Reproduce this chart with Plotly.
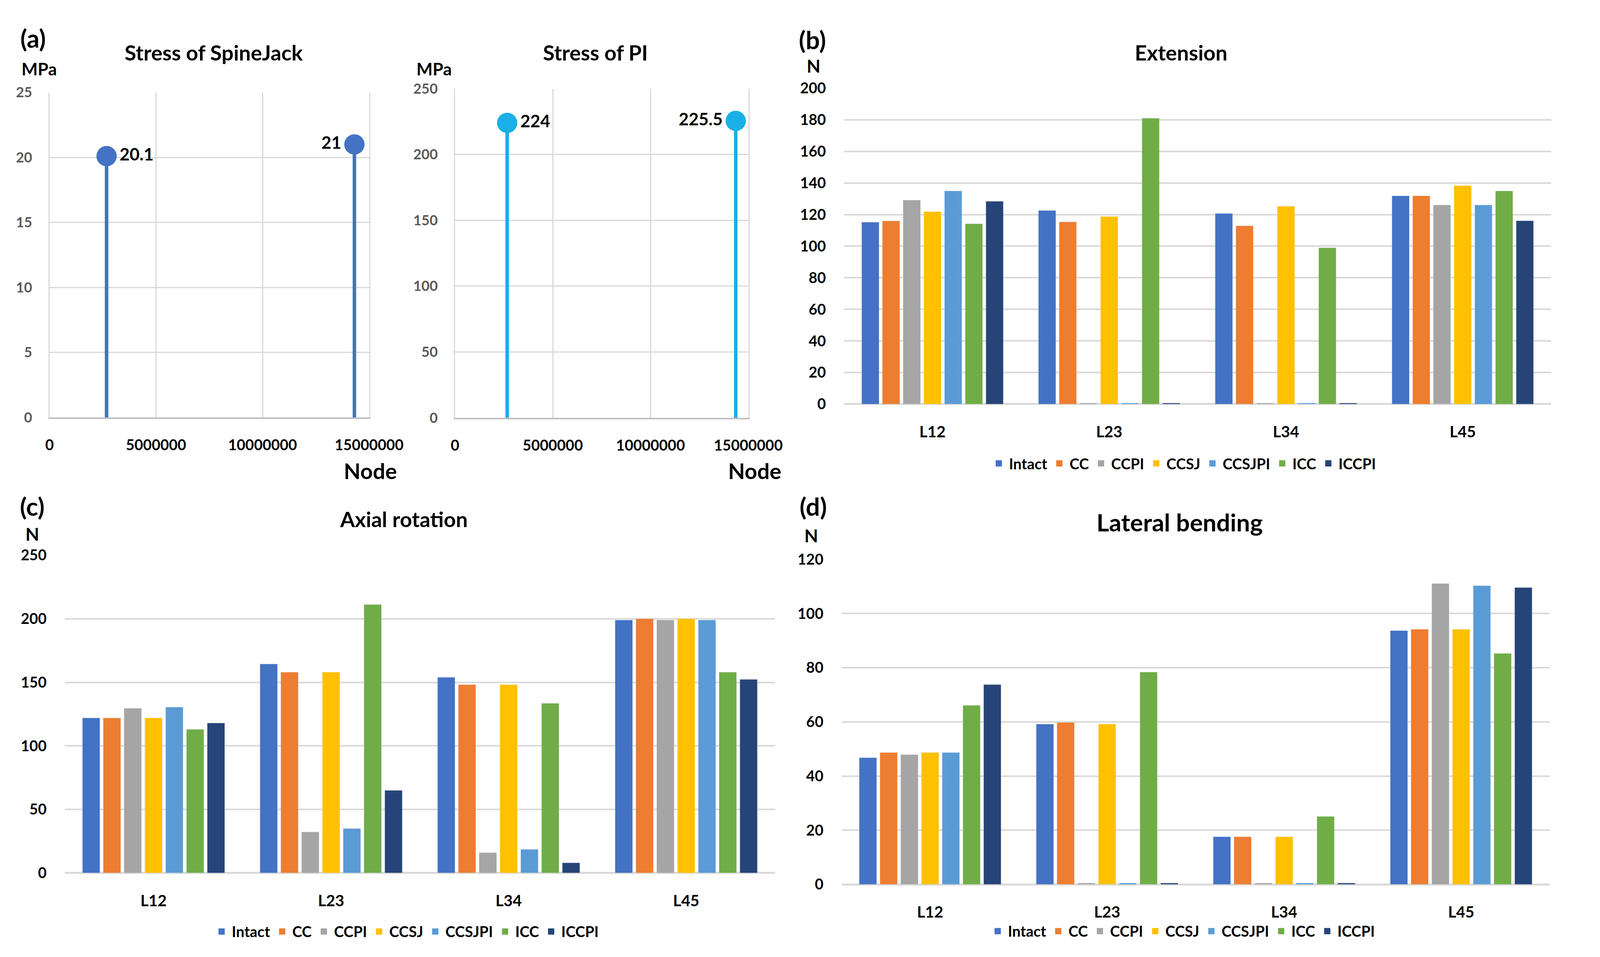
import plotly.graph_objects as go

W, H = 4364, 2451  # reference canvas, used to place layout items as fractions

# ---------------- data ----------------
nodes_sj = [2680000, 14310000]
stress_sj = [20.1, 21]
nodes_pi = [2670000, 14360000]
stress_pi = [224, 225.5]

levels = ["L12", "L23", "L34", "L45"]
groups = ["Intact", "CC", "CCPI", "CCSJ", "CCSJPI", "ICC", "ICCPI"]
group_colors = ["#4472C4", "#ED7D31", "#A5A5A5", "#FFC000", "#5B9BD5", "#70AD47", "#264478"]

extension = {
    "Intact": [115.2, 122.6, 120.7, 131.9],
    "CC": [116.0, 115.4, 112.9, 131.9],
    "CCPI": [129.2, 0.7, 0.7, 126.1],
    "CCSJ": [121.9, 118.8, 125.3, 138.4],
    "CCSJPI": [135.0, 0.7, 0.7, 126.1],
    "ICC": [114.2, 181.0, 99.0, 135.0],
    "ICCPI": [128.4, 0.7, 0.7, 116.1],
}
axial = {
    "Intact": [122, 164.4, 153.9, 199],
    "CC": [122, 158, 148.2, 200],
    "CCPI": [129.6, 32.3, 16, 199],
    "CCSJ": [122, 158, 148.2, 200],
    "CCSJPI": [130.5, 35, 18.6, 199],
    "ICC": [113, 211.2, 133.5, 158],
    "ICCPI": [118, 65, 8, 152.3],
}
lateral = {
    "Intact": [46.8, 59.2, 17.6, 93.7],
    "CC": [48.7, 59.8, 17.6, 94.2],
    "CCPI": [47.9, 0.5, 0.5, 111.1],
    "CCSJ": [48.7, 59.2, 17.6, 94.2],
    "CCSJPI": [48.7, 0.5, 0.5, 110.3],
    "ICC": [66.1, 78.4, 25.1, 85.3],
    "ICCPI": [73.8, 0.5, 0.5, 109.6],
}

FONT = "Lato, 'Open Sans', sans-serif"
GRID = "#D9D9D9"


def fx(p):
    return p / W


def fy(p):
    return 1 - p / H


fig = go.Figure()

# ---------------- panel (a): stems ----------------
for xs, ys, col, xa, ya, pos in [
    (nodes_sj, stress_sj, "#4472C4", "x", "y", ["middle right", "middle left"]),
    (nodes_pi, stress_pi, "#1AAFE6", "x2", "y2", ["middle right", "middle left"]),
]:
    fig.add_trace(go.Scatter(
        x=xs, y=ys, mode="markers+text", xaxis=xa, yaxis=ya,
        marker=dict(size=52, color=col),
        text=[str(v) for v in ys], textposition=pos,
        textfont=dict(family=FONT, size=44, color="black", weight="bold"),
        error_y=dict(type="data", symmetric=False, array=[0] * len(ys),
                     arrayminus=ys, color=col, thickness=9, width=0),
        showlegend=False, cliponaxis=False,
    ))

# ---------------- bar panels ----------------
for data, xa, ya, lg in [
    (extension, "x3", "y3", "legend"),
    (axial, "x4", "y4", "legend2"),
    (lateral, "x5", "y5", "legend3"),
]:
    for g, c in zip(groups, group_colors):
        fig.add_trace(go.Bar(
            x=levels, y=data[g], name=g, marker_color=c,
            xaxis=xa, yaxis=ya, legend=lg, legendgroup=lg + g, showlegend=False,
        ))
    # legend entries with larger square swatches
    for g, c in zip(groups, group_colors):
        fig.add_trace(go.Scatter(
            x=[None], y=[None], mode="markers", name=g,
            marker=dict(symbol="square", size=16, color=c),
            xaxis=xa, yaxis=ya, legend=lg, legendgroup=lg + g, showlegend=True,
            hoverinfo="skip",
        ))


def tick_bold(size, color="black"):
    return dict(family=FONT, size=size, color=color, weight="bold")


common_stem_x = dict(
    range=[0, 15000000], tickvals=[0, 5000000, 10000000, 15000000],
    ticktext=["0", "5000000", "10000000", "15000000"],
    showgrid=True, gridcolor=GRID, gridwidth=3, zeroline=False,
    showline=True, linecolor="#BFBFBF", linewidth=4,
    ticks="outside", ticklen=34, tickcolor="rgba(0,0,0,0)",
    tickfont=tick_bold(38),
)
common_stem_y = dict(
    showgrid=True, gridcolor=GRID, gridwidth=3, zeroline=False,
    showline=True, linecolor=GRID, linewidth=3, mirror=True,
    ticks="outside", ticklen=34, tickcolor="rgba(0,0,0,0)",
    tickfont=tick_bold(36, "#595959"),
)

fig.update_layout(
    autosize=True, margin=dict(l=0, r=0, t=0, b=0, pad=0),
    paper_bgcolor="white", plot_bgcolor="white",
    barmode="group", bargap=0.18, bargroupgap=0.16,
    font=dict(family=FONT, color="black"),
    xaxis=dict(domain=[fx(118), fx(1015)], anchor="y", **common_stem_x),
    yaxis=dict(domain=[fy(1063), fy(209)], anchor="x", range=[0, 25], dtick=5, **common_stem_y),
    xaxis2=dict(domain=[fx(1256), fx(2079)], anchor="y2", **common_stem_x),
    yaxis2=dict(domain=[fy(1064), fy(199)], anchor="x2", range=[0, 250], dtick=50, **common_stem_y),
)

bar_x = dict(showgrid=False, zeroline=False, showline=False,
             ticks="outside", ticklen=36, tickcolor="rgba(0,0,0,0)",
             tickfont=tick_bold(40))
bar_y = dict(showgrid=True, gridcolor=GRID, gridwidth=4, zeroline=True,
             zerolinecolor=GRID, zerolinewidth=5,
             ticks="outside", ticklen=38, tickcolor="rgba(0,0,0,0)",
             tickfont=tick_bold(38))

fig.update_layout(
    xaxis3=dict(domain=[fx(2348), fx(4332)], anchor="y3", **bar_x),
    yaxis3=dict(domain=[fy(1028), fy(198)], anchor="x3", range=[0, 200], dtick=20, **bar_y),
    xaxis4=dict(domain=[fx(161), fx(2154)], anchor="y4", **bar_x),
    yaxis4=dict(domain=[fy(2260), fy(1425)], anchor="x4", range=[0, 250], dtick=50, **bar_y),
    xaxis5=dict(domain=[fx(2341), fx(4328)], anchor="y5", **bar_x),
    yaxis5=dict(domain=[fy(2290), fy(1436)], anchor="x5", range=[0, 120], dtick=20, **bar_y),
)

leg_common = dict(orientation="h", xanchor="center", yanchor="middle",
                  font=dict(family=FONT, size=38, color="black", weight="bold"),
                  bgcolor="rgba(0,0,0,0)", itemwidth=42, itemsizing="trace",
                  traceorder="normal")
fig.update_layout(
    legend=dict(x=fx(3300), y=fy(1184), **leg_common),
    legend2=dict(x=fx(1119), y=fy(2414), **leg_common),
    legend3=dict(x=fx(3297), y=fy(2413), **leg_common),
)


# ---------------- annotations ----------------
def ann(text, x, y, size, color="black"):
    fig.add_annotation(text=text, x=fx(x), y=fy(y), xref="paper", yref="paper",
                       showarrow=False, xanchor="center", yanchor="middle",
                       font=dict(family=FONT, size=size, color=color, weight="bold"))


ann("(a)", 72, 66, 64)
ann("(b)", 2259, 70, 64)
ann("(c)", 70, 1296, 64)
ann("(d)", 2261, 1296, 64)

ann("Stress of SpineJack", 579, 104, 54)
ann("Stress of PI", 1650, 104, 54)
ann("Extension", 3294, 104, 54)
ann("Axial rotation", 1113, 1330, 54)
ann("Lateral bending", 3290, 1338, 62)

ann("MPa", 89, 147, 44)
ann("MPa", 1197, 147, 44)
ann("N", 2262, 139, 46)
ann("N", 70, 1369, 46)
ann("N", 2255, 1373, 46)

ann("Node", 1018, 1203, 56)
ann("Node", 2097, 1203, 56)

fig.write_html("out.html", default_width="calc(100vw - 16px)",
               default_height="calc(100vh - 16px)")
